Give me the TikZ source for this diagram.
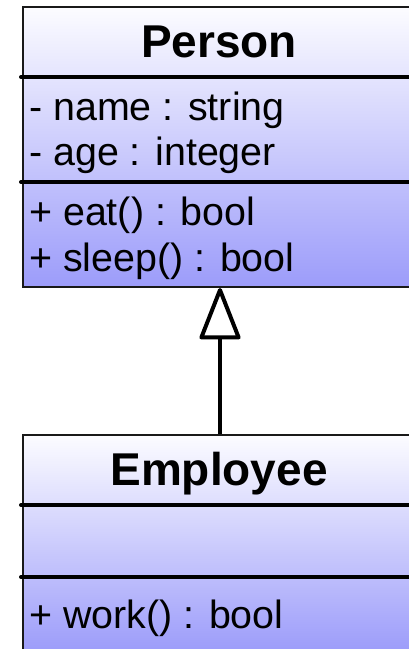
\documentclass[tikz,border=0pt]{standalone}
\usepackage{fontspec}
\setmainfont{Liberation Sans}
\usetikzlibrary{arrows.meta}
\definecolor{classtop}{RGB}{252,252,255}
\definecolor{classbot}{RGB}{156,156,250}
\tikzset{
  classbox/.style={rectangle, draw=black!90, line width=2pt, top color=classtop,
    bottom color=classbot, anchor=north west, inner sep=0pt,
    minimum width=394pt},
  sepline/.style={line width=4pt, line cap=round, black},
  title/.style={anchor=base, inner sep=0pt, font=\fontsize{46}{52}\selectfont\bfseries},
  member/.style={anchor=base west, inner sep=0pt, font=\fontsize{39.4}{46}\selectfont},
  inherits/.style={line width=4pt, line join=round,
    -{Triangle[open, length=55pt, width=42pt, round]}}
}
\begin{document}
\begin{tikzpicture}[x=1pt, y=-1pt]
\useasboundingbox (0,0) rectangle (409,649);
\clip (0,0) rectangle (409,649);
\fill[white] (0,0) rectangle (409,649);

% Person class
\node[classbox, minimum height=280pt] (person) at (22,6) {};
\draw[sepline] (21,77) -- (417,77);
\draw[sepline] (21,182) -- (417,182);
\node[title] (ptitle) at (219,57) {Person};
\node[member] (pname) at (29,120) {- name : string};
\node[member] (page) at (29,165) {- age : integer};
\node[member] (peat) at (29,225) {+ eat() : bool};
\node[member] (psleep) at (29,271) {+ sleep() : bool};

% Employee class
\node[classbox, minimum height=217pt] (employee) at (22,434) {};
\draw[sepline] (21,505) -- (417,505);
\draw[sepline] (21,577) -- (417,577);
\node[title] (etitle) at (219,485) {Employee};
\node[member] (ework) at (29,628) {+ work() : bool};

% Generalization
\draw[inherits] (employee.north) -- (person.south);
\end{tikzpicture}
\end{document}
